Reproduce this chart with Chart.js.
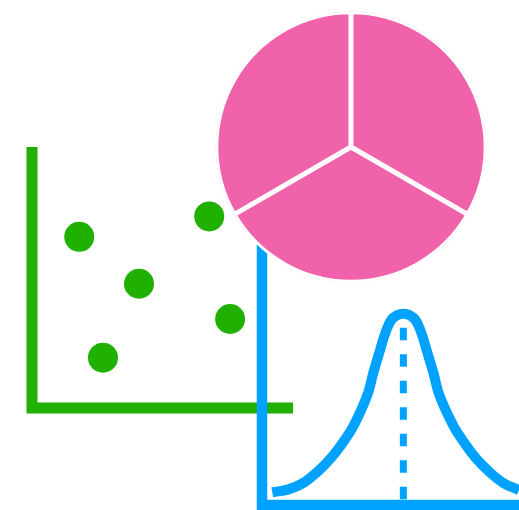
<!DOCTYPE html>
<html><head><meta charset="utf-8">
<script src="https://cdn.jsdelivr.net/npm/chart.js@4"></script>
<style>
html,body{margin:0;padding:0;background:#fff;overflow:hidden}
#wrap{position:relative;width:519px;height:510px;background:#fff}
canvas{position:absolute;left:0;top:0}
</style></head><body>
<div id="wrap">
<canvas id="scatter" width="519" height="510"></canvas>
<canvas id="bell" width="519" height="510"></canvas>
<canvas id="pie" width="519" height="510"></canvas>
</div>
<script>
// ---- data ----
const scatterX = [1.81, 4.10, 6.79, 7.59, 2.72];
const scatterY = [6.56, 4.76, 7.34, 3.41, 1.93];
const scatterAxisX = [0, 0, 10];
const scatterAxisY = [10, 0, 0];

const bellX = [0.40, 1.03, 1.61, 2.15, 2.70, 3.17, 3.56, 4.10, 4.33, 4.57, 4.80, 5.03, 5.27, 5.50, 5.73, 5.97, 6.20, 6.43, 6.67, 6.90, 7.45, 7.84, 8.30, 8.85, 9.39, 10.0];
const bellY = [0.49, 0.60, 0.85, 1.27, 1.83, 2.44, 3.04, 4.23, 5.08, 5.88, 6.62, 7.12, 7.31, 7.36, 7.31, 7.12, 6.62, 5.88, 5.08, 4.23, 3.04, 2.44, 1.83, 1.27, 0.85, 0.57];
const meanX = [5.5, 5.5];
const meanY = [6.82, 0];
const bellAxisX = [0, 0, 10];
const bellAxisY = [10, 0, 0];

const pieLabels = ['A', 'B', 'C'];
const pieValues = [1, 1, 1];

const GREEN = '#20B000', BLUE = '#00A2FF', PINK = '#F062A9';

const pts = (xs, ys) => xs.map((x, i) => ({x, y: ys[i]}));
const baseOpts = (pad) => ({
  responsive: false, animation: false, devicePixelRatio: 1,
  layout: {padding: pad},
  plugins: {legend: {display: false}, tooltip: {enabled: false}},
  events: []
});
const hiddenScales = {
  x: {type: 'linear', min: 0, max: 10, display: false},
  y: {type: 'linear', min: 0, max: 10, display: false}
};

// ---- scatter ----
new Chart(document.getElementById('scatter'), {
  type: 'scatter',
  data: {datasets: [
    {data: pts(scatterX, scatterY), backgroundColor: GREEN, borderWidth: 0, pointRadius: 15, clip: false},
    {data: pts(scatterAxisX, scatterAxisY), showLine: true, borderColor: GREEN, borderWidth: 11,
     pointRadius: 0, borderCapStyle: 'butt', borderJoinStyle: 'miter', tension: 0, clip: false}
  ]},
  options: Object.assign(baseOpts({left: 32, top: 147, right: 226, bottom: 102}), {scales: hiddenScales})
});

// ---- bell curve ----
new Chart(document.getElementById('bell'), {
  type: 'scatter',
  data: {datasets: [
    {data: pts(bellAxisX, bellAxisY), showLine: true, borderColor: BLUE, borderWidth: 10.5,
     pointRadius: 0, borderCapStyle: 'butt', borderJoinStyle: 'miter', tension: 0, clip: false},
    {data: pts(bellX, bellY), showLine: true, borderColor: BLUE, borderWidth: 10,
     pointRadius: 0, borderCapStyle: 'butt', borderJoinStyle: 'round', tension: 0.4, clip: false},
    {data: pts(meanX, meanY), showLine: true, borderColor: BLUE, borderWidth: 7, borderDash: [12.5, 14],
     pointRadius: 0, borderCapStyle: 'butt', tension: 0, clip: false}
  ]},
  options: Object.assign(baseOpts({left: 262, top: 245, right: 0, bottom: 5}), {scales: hiddenScales})
});

// ---- pie ----
new Chart(document.getElementById('pie'), {
  type: 'pie',
  data: {labels: pieLabels, datasets: [{
    data: pieValues, backgroundColor: PINK, borderColor: '#ffffff', borderWidth: 2.5,
    borderAlign: 'inner', radius: 135.5
  }]},
  options: baseOpts({left: 211, top: 7, right: 28, bottom: 223})
});
</script>
</body></html>
